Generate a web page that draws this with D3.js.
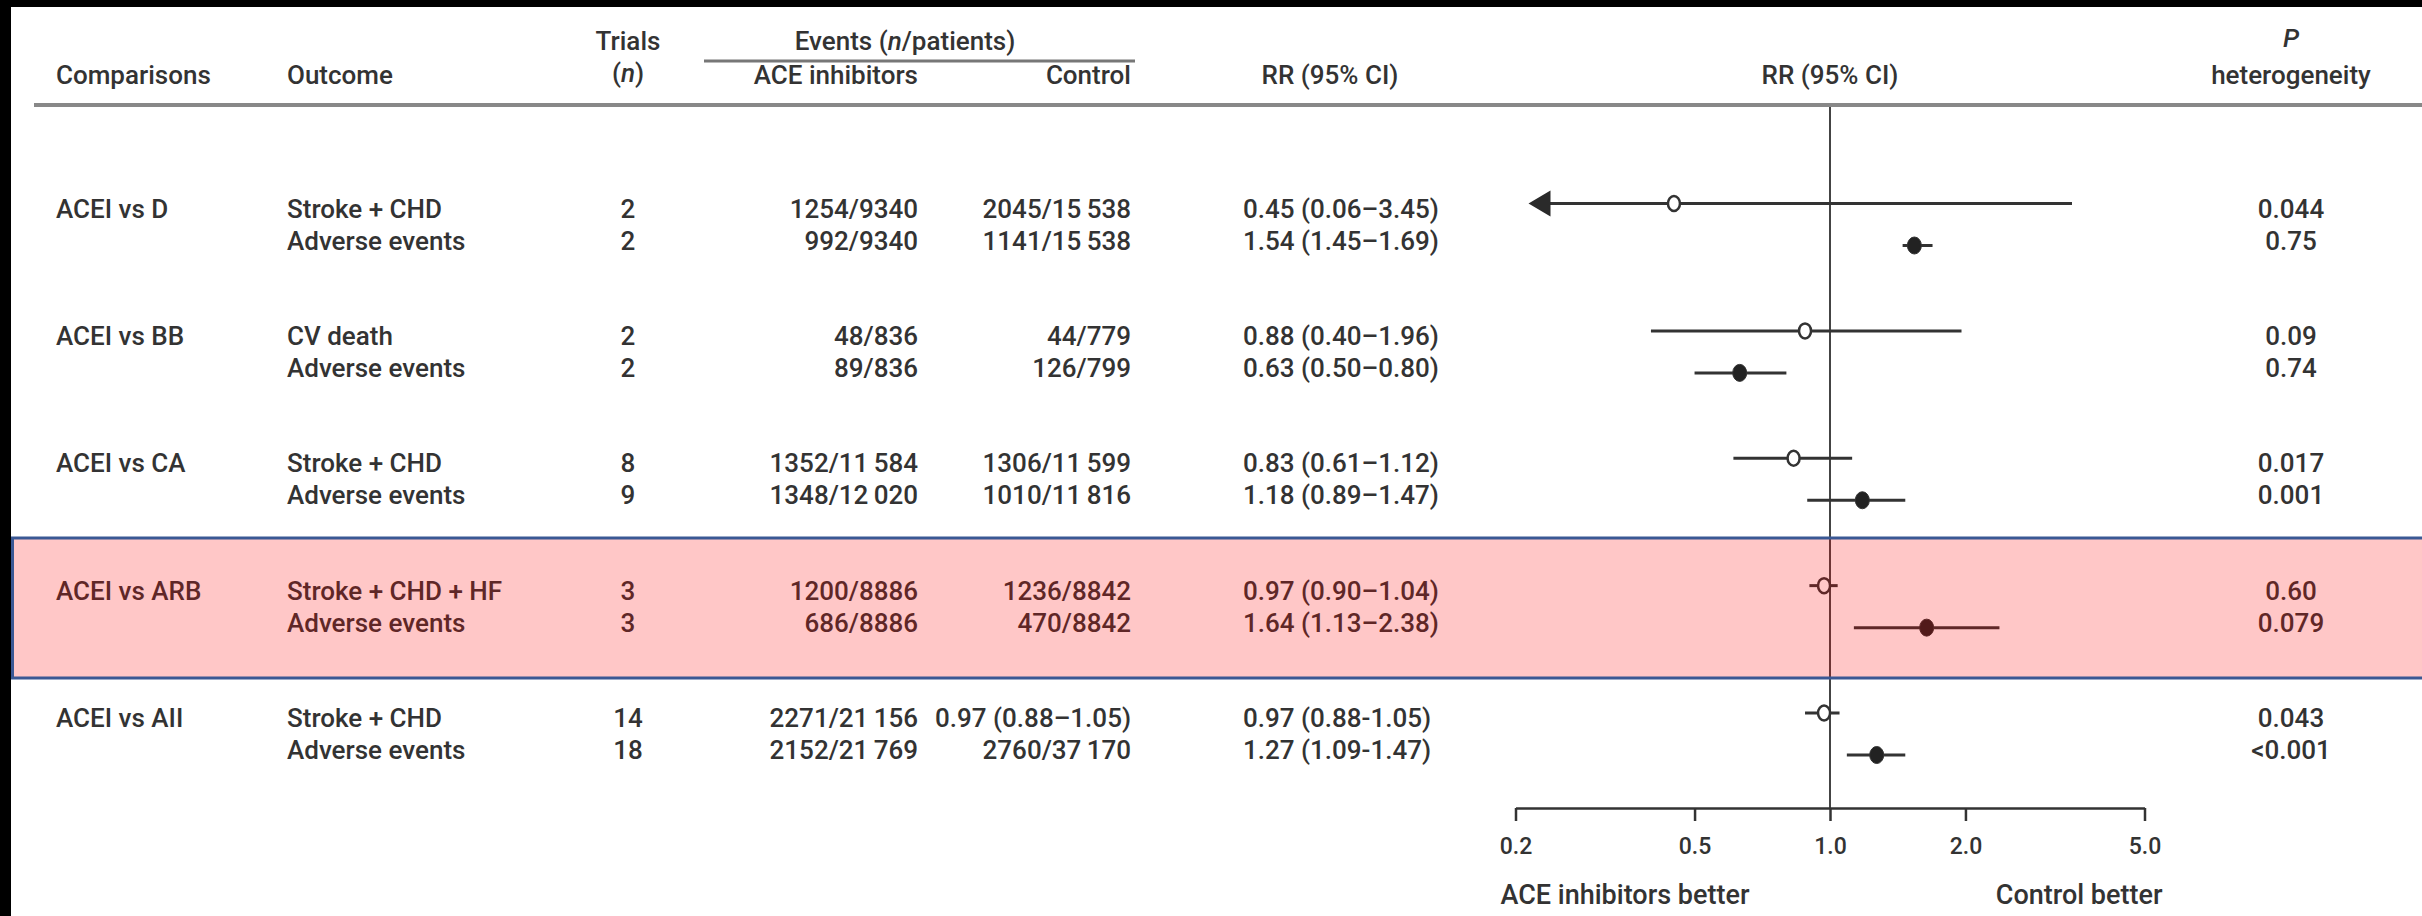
<!DOCTYPE html>
<html>
<head>
<meta charset="utf-8">
<script src="https://cdn.jsdelivr.net/npm/d3@7"></script>
<style>
  body { margin: 0; background: #000; }
  svg text { font-family: Roboto, "Liberation Sans", Arial, sans-serif; font-weight: 500; fill: #333; }
</style>
</head>
<body>
<svg id="chart" width="2422" height="916"></svg>
<script>

// data
const comparisons = ["ACEI vs D", "ACEI vs BB", "ACEI vs CA", "ACEI vs ARB", "ACEI vs AII"];
const outcomes = ["Stroke + CHD", "Adverse events", "CV death", "Adverse events", "Stroke + CHD",
                  "Adverse events", "Stroke + CHD + HF", "Adverse events", "Stroke + CHD", "Adverse events"];
const trials = [2, 2, 2, 2, 8, 9, 3, 3, 14, 18];
const aceEvents = ["1254/9340", "992/9340", "48/836", "89/836", "1352/11\u2009584",
                   "1348/12\u2009020", "1200/8886", "686/8886", "2271/21\u2009156", "2152/21\u2009769"];
const controlEvents = ["2045/15\u2009538", "1141/15\u2009538", "44/779", "126/799", "1306/11\u2009599",
                       "1010/11\u2009816", "1236/8842", "470/8842", "0.97 (0.88\u20131.05)", "2760/37\u2009170"];
const rrLabels = ["0.45 (0.06\u20133.45)", "1.54 (1.45\u20131.69)", "0.88 (0.40\u20131.96)", "0.63 (0.50\u20130.80)",
                  "0.83 (0.61\u20131.12)", "1.18 (0.89\u20131.47)", "0.97 (0.90\u20131.04)", "1.64 (1.13\u20132.38)",
                  "0.97 (0.88-1.05)", "1.27 (1.09-1.47)"];
const rr =     [0.45, 1.54, 0.88, 0.63, 0.83, 1.18, 0.97, 1.64, 0.97, 1.27];
const rrLow =  [0.06, 1.45, 0.40, 0.50, 0.61, 0.89, 0.90, 1.13, 0.88, 1.09];
const rrHigh = [3.45, 1.69, 1.96, 0.80, 1.12, 1.47, 1.04, 2.38, 1.05, 1.47];
const pHet = ["0.044", "0.75", "0.09", "0.74", "0.017", "0.001", "0.60", "0.079", "0.043", "<0.001"];
const axisTicks = [0.2, 0.5, 1.0, 2.0, 5.0];
const highlighted = "ACEI vs ARB";

const rows = outcomes.map(function(o, i) {
    return {
        comparison: comparisons[Math.floor(i / 2)],
        first: i % 2 === 0,
        outcome: o,
        trials: trials[i],
        ace: aceEvents[i],
        control: controlEvents[i],
        label: rrLabels[i],
        rr: rr[i], lo: rrLow[i], hi: rrHigh[i],
        p: pHet[i],
        filled: o === "Adverse events"
    };
});

const W = 2422, H = 916;
const fs = 26;
const svg = d3.select("#chart");

// white page, black scan border on top and left
svg.append("rect").attr("x", 11).attr("y", 7).attr("width", W - 11).attr("height", H - 7).attr("fill", "#fff");

// scales
const x = d3.scaleLog().domain([0.2, 5]).range([1515.5, 2144.5]);
const yGroup = d3.scalePoint().domain(comparisons).range([224.5, 734]);
const textOff = 16, markOff = 21;

// column positions
const col = { comp: 56, outcome: 287, trials: 628, ace: 918, control: 1131, rr: 1243, p: 2291 };

// header
const header = svg.append("g").attr("font-size", fs);
function htext(xp, yp, anchor, str) {
    return header.append("text").attr("x", xp).attr("y", yp).attr("dy", "0.35em")
        .attr("text-anchor", anchor).text(str);
}
htext(col.comp, 75, "start", "Comparisons");
htext(col.outcome, 75, "start", "Outcome");
htext(col.trials, 41, "middle", "Trials");
let tn = htext(col.trials, 73, "middle", "(");
tn.append("tspan").attr("font-style", "italic").text("n");
tn.append("tspan").text(")");
let ev = htext(905, 41, "middle", "Events (");
ev.append("tspan").attr("font-style", "italic").text("n");
ev.append("tspan").text("/patients)");
htext(col.ace, 75, "end", "ACE inhibitors");
htext(col.control, 75, "end", "Control");
htext(1330, 75, "middle", "RR (95% CI)");
htext(x(1), 75, "middle", "RR (95% CI)");
htext(col.p, 38, "middle", "P").attr("font-style", "italic");
htext(col.p, 75, "middle", "heterogeneity");

svg.append("line").attr("x1", 704).attr("x2", 1135).attr("y1", 61).attr("y2", 61)
    .attr("stroke", "#777").attr("stroke-width", 3);
svg.append("line").attr("x1", 34).attr("x2", W).attr("y1", 105).attr("y2", 105)
    .attr("stroke", "#888").attr("stroke-width", 4);

// table rows
const body = svg.append("g").attr("font-size", fs);
const rowG = body.selectAll("g.row").data(rows).enter().append("g")
    .attr("class", "row")
    .attr("transform", function(d) {
        return "translate(0," + (yGroup(d.comparison) + (d.first ? -textOff : textOff)) + ")";
    });

rowG.filter(function(d) { return d.first; }).append("text")
    .attr("x", col.comp).attr("dy", "0.35em").text(function(d) { return d.comparison; });
rowG.append("text").attr("x", col.outcome).attr("dy", "0.35em").text(function(d) { return d.outcome; });
rowG.append("text").attr("x", col.trials).attr("dy", "0.35em").attr("text-anchor", "middle")
    .text(function(d) { return d.trials; });
rowG.append("text").attr("x", col.ace).attr("dy", "0.35em").attr("text-anchor", "end")
    .text(function(d) { return d.ace; });
rowG.append("text").attr("x", col.control).attr("dy", "0.35em").attr("text-anchor", "end")
    .text(function(d) { return d.control; });
rowG.append("text").attr("x", col.rr).attr("dy", "0.35em").text(function(d) { return d.label; });
rowG.append("text").attr("x", col.p).attr("dy", "0.35em").attr("text-anchor", "middle")
    .text(function(d) { return d.p; });

// reference line at RR = 1
const axisY = 808;
svg.append("line").attr("x1", x(1)).attr("x2", x(1)).attr("y1", 107).attr("y2", axisY)
    .attr("stroke", "#444").attr("stroke-width", 2);

// confidence intervals and point estimates
const [dMin, dMax] = x.domain();
const plot = svg.append("g");
const mark = plot.selectAll("g.mark").data(rows).enter().append("g")
    .attr("class", "mark")
    .attr("transform", function(d) {
        return "translate(0," + (yGroup(d.comparison) + (d.first ? -markOff : markOff)) + ")";
    });

mark.append("line")
    .attr("x1", function(d) { return d.lo < dMin ? x(dMin) + 30 : x(d.lo); })
    .attr("x2", function(d) { return x(Math.min(d.hi, dMax)); })
    .attr("stroke", "#333").attr("stroke-width", 3);

// arrow when the interval runs off the left of the scale
mark.filter(function(d) { return d.lo < dMin; }).append("path")
    .attr("d", function() {
        let tip = x(dMin) + 13;
        return "M" + tip + ",0L" + (tip + 22) + ",-13L" + (tip + 22) + ",13Z";
    })
    .attr("fill", "#2a2a2a");

mark.append("ellipse")
    .attr("cx", function(d) { return x(d.rr); })
    .attr("rx", function(d) { return d.filled ? 7 : 6; })
    .attr("ry", function(d) { return d.filled ? 8.5 : 7.5; })
    .attr("fill", function(d) { return d.filled ? "#222" : "#fff"; })
    .attr("stroke", "#333")
    .attr("stroke-width", function(d) { return d.filled ? 1 : 2.5; });

// x axis
const axis = svg.append("g")
    .attr("transform", "translate(0," + axisY + ")")
    .call(d3.axisBottom(x).tickValues(axisTicks).tickFormat(d3.format(".1f"))
        .tickSizeInner(13).tickSizeOuter(0).tickPadding(17));
axis.select(".domain").attr("stroke", "#333").attr("stroke-width", 2.5);
axis.selectAll(".tick line").attr("stroke", "#333").attr("stroke-width", 2.5);
axis.selectAll(".tick text").attr("font-size", 23).attr("font-family", null).attr("fill", "#333");

svg.append("text").attr("x", x(dMin) - 15).attr("y", 895).attr("dy", "0.35em")
    .attr("font-size", 27).text("ACE inhibitors better");
svg.append("text").attr("x", x(dMax) + 18).attr("y", 895).attr("dy", "0.35em")
    .attr("font-size", 27).attr("text-anchor", "end").text("Control better");

// highlighted comparison band
const bandTop = 538, bandBottom = 678;
svg.append("rect")
    .attr("x", 11).attr("y", bandTop).attr("width", W - 11).attr("height", bandBottom - bandTop)
    .attr("fill", "#ff0000").attr("fill-opacity", 0.22);
svg.append("path")
    .attr("d", "M" + W + "," + bandTop + "H12.5V" + bandBottom + "H" + W)
    .attr("fill", "none").attr("stroke", "#3a5894").attr("stroke-width", 3);

</script>
</body>
</html>
